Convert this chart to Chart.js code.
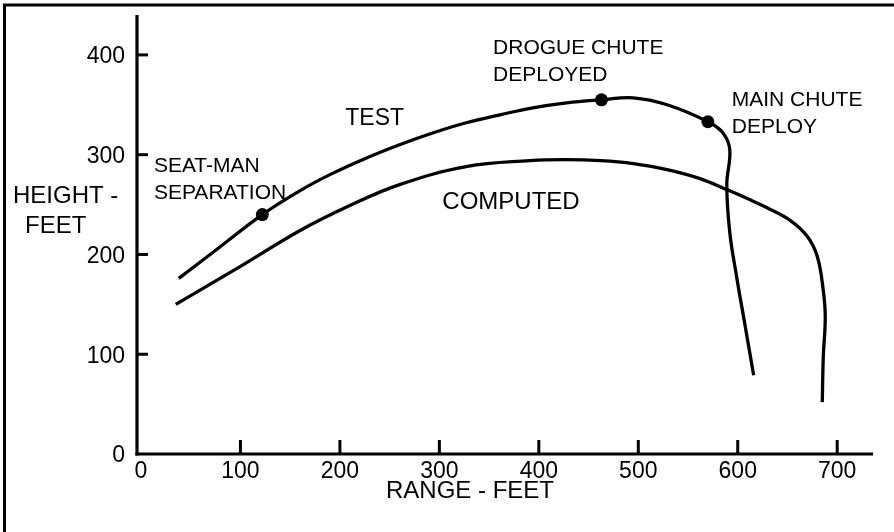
<!DOCTYPE html>
<html><head><meta charset="utf-8">
<script src="https://cdn.jsdelivr.net/npm/chart.js@4.4.1/dist/chart.umd.min.js"></script>
<style>html,body{margin:0;padding:0;background:#fff;}canvas{display:block;}</style>
</head><body>
<canvas id="c" width="894" height="532"></canvas>
<script>
// ---- data (range in feet, height in feet) ----
const testRange  = [38,80,122,160,190,225,260,294,327,361,394,428,463,495,529,570,585,592,589,592,599,607,616];
const testHeight = [176,208,240,264,280,296,310,322,332,340,347,352,355,357,350,333,322,305,270,222,177,131,79];
const computedRange  = [35,100,160,210,260,327,391,428,462,495,529,562,589,612,629,653,670,680,686,688,686,685];
const computedHeight = [150,188,224,249,270,288,294,295,294,291,285,276,265,255,247,234,218,198,164,137,97,52];
const eventRange  = [122,463,570];
const eventHeight = [240,355,333];
const xTickValues = [0,100,200,300,400,500,600,700];
const yTickValues = [0,100,200,300,400];

// text annotations (data units)
const notes = [
  {lines:['SEAT-MAN','SEPARATION'], x:13,  y:290, align:'left',   size:21},
  {lines:['TEST'],                  x:235, y:338, align:'center', size:23},
  {lines:['COMPUTED'],              x:372, y:254, align:'center', size:24},
  {lines:['DROGUE CHUTE','DEPLOYED'], x:354, y:408, align:'left', size:21},
  {lines:['MAIN CHUTE','DEPLOY'],   x:594, y:356, align:'left',   size:21}
];

const FONT = '"Liberation Sans", Arial, Helvetica, sans-serif';
const toPts = (xs, ys) => xs.map((x,i)=>({x, y: ys[i]}));

const decor = {
  id: 'decor',
  beforeDraw(chart){
    const c = chart.ctx;
    c.save();
    c.fillStyle = '#fff';
    c.fillRect(0,0,chart.width,chart.height);
    c.restore();
  },
  afterDraw(chart){
    const c = chart.ctx, xs = chart.scales.x, ys = chart.scales.y;
    const ca = chart.chartArea;
    c.save();
    // frame (top and left)
    c.strokeStyle = '#000'; c.lineWidth = 3; c.lineCap = 'butt';
    c.beginPath(); c.moveTo(4.5, 532); c.lineTo(4.5, 5); c.lineTo(894, 5); c.stroke();
    // axis lines
    c.lineWidth = 3.2;
    c.beginPath(); c.moveTo(ca.left, ca.top); c.lineTo(ca.left, ca.bottom + 1.5); c.stroke();
    c.beginPath(); c.moveTo(ca.left - 1.5, ca.bottom); c.lineTo(ca.right, ca.bottom); c.stroke();
    // tick marks (inward)
    c.lineWidth = 3;
    yTickValues.forEach(v => { if (v === 0) return;
      const p = ys.getPixelForValue(v);
      c.beginPath(); c.moveTo(ca.left, p); c.lineTo(ca.left + 11, p); c.stroke(); });
    xTickValues.forEach(v => { if (v === 0) return;
      const p = xs.getPixelForValue(v);
      c.beginPath(); c.moveTo(p, ca.bottom); c.lineTo(p, ca.bottom - 14); c.stroke(); });
    // annotations
    c.fillStyle = '#000'; c.textBaseline = 'alphabetic';
    notes.forEach(n => {
      c.font = n.size + 'px ' + FONT; c.textAlign = n.align;
      const px = xs.getPixelForValue(n.x), py = ys.getPixelForValue(n.y);
      n.lines.forEach((t,i) => c.fillText(t, px, py + i*26.5 + n.size*0.358));
    });
    // axis titles
    c.font = '24px ' + FONT; c.textAlign = 'left';
    c.fillText('HEIGHT -', 13, 194 + 24*0.358);
    c.fillText('FEET', 25, 224 + 24*0.358);
    c.textAlign = 'center';
    c.fillText('RANGE - FEET', 470, 489 + 24*0.358);
    c.restore();
  }
};

new Chart(document.getElementById('c'), {
  type: 'scatter',
  data: {
    datasets: [
      {label:'TEST', data: toPts(testRange, testHeight), showLine:true, borderColor:'#000', borderWidth:3.3, pointRadius:0, tension:0.4, fill:false, borderCapStyle:'butt'},
      {label:'COMPUTED', data: toPts(computedRange, computedHeight), showLine:true, borderColor:'#000', borderWidth:3.3, pointRadius:0, tension:0.4, fill:false, borderCapStyle:'butt'},
      {label:'EVENTS', data: toPts(eventRange, eventHeight), showLine:false, pointRadius:6.5, pointBackgroundColor:'#000', pointBorderColor:'#000', pointBorderWidth:0}
    ]
  },
  options: {
    responsive:false, animation:false, devicePixelRatio:1,
    layout:{padding:{left:0, top:15, right:21, bottom:0}},
    plugins:{legend:{display:false}, tooltip:{enabled:false}},
    scales:{
      x:{type:'linear', min:-4, max:736,
         afterBuildTicks: s => { s.ticks = xTickValues.map(v=>({value:v})); },
         afterFit: s => { s.height = 78; s.paddingLeft = 0; s.paddingRight = 0; },
         grid:{display:false, drawTicks:false}, border:{display:false},
         ticks:{color:'#000', padding:4, maxRotation:0, autoSkip:false, font:{family:FONT, size:23}}},
      y:{type:'linear', min:0, max:440,
         afterBuildTicks: s => { s.ticks = yTickValues.map(v=>({value:v})); },
         afterFit: s => { s.width = 137; s.paddingTop = 0; s.paddingBottom = 0; },
         grid:{display:false, drawTicks:false}, border:{display:false},
         ticks:{color:'#000', padding:12, labelOffset:2, autoSkip:false, font:{family:FONT, size:23}}}
    }
  },
  plugins:[decor]
});
</script>
</body></html>
